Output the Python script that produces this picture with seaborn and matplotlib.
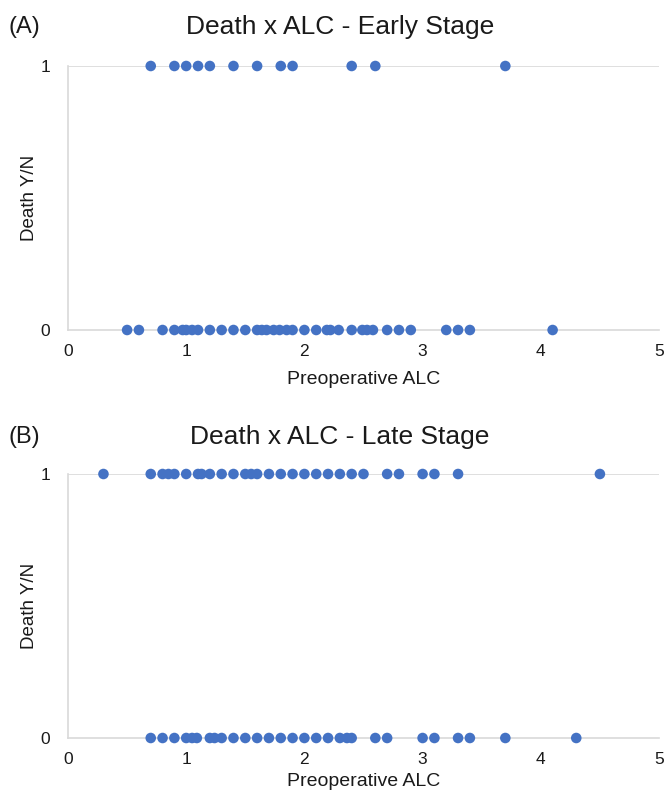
import matplotlib
matplotlib.use("Agg")
import matplotlib.pyplot as plt
import seaborn as sns
import pandas as pd

sns.set_style("white")
plt.rcParams['font.family'] = ['Liberation Sans', 'DejaVu Sans']

# Early stage
early_death_alc = [0.7, 0.9, 1.0, 1.1, 1.2, 1.4, 1.6, 1.8, 1.9, 2.4, 2.6, 3.7]
early_alive_alc = [0.5, 0.6, 0.8, 0.9, 0.97, 1.0, 1.05, 1.1, 1.2, 1.3, 1.4, 1.5,
                   1.6, 1.64, 1.68, 1.74, 1.79, 1.85, 1.9, 2.0, 2.1, 2.19, 2.22,
                   2.29, 2.4, 2.49, 2.53, 2.58, 2.7, 2.8, 2.9, 3.2, 3.3, 3.4, 4.1]
# Late stage
late_death_alc = [0.3, 0.7, 0.8, 0.85, 0.9, 1.0, 1.1, 1.13, 1.2, 1.3, 1.4, 1.5,
                  1.55, 1.6, 1.7, 1.8, 1.9, 2.0, 2.1, 2.2, 2.3, 2.4, 2.5, 2.7,
                  2.8, 3.0, 3.1, 3.3, 4.5]
late_alive_alc = [0.7, 0.8, 0.9, 1.0, 1.05, 1.09, 1.2, 1.24, 1.3, 1.4, 1.5, 1.6,
                  1.7, 1.8, 1.9, 2.0, 2.1, 2.2, 2.3, 2.36, 2.4, 2.6, 2.7, 3.0,
                  3.1, 3.3, 3.4, 3.7, 4.3]

titles = ["Death x ALC - Early Stage", "Death x ALC - Late Stage"]
panel_labels = ["(A)", "(B)"]
x_ticks = [0, 1, 2, 3, 4, 5]
y_ticks = [0, 1]

def make_df(death, alive):
    return pd.DataFrame({
        "alc": list(death) + list(alive),
        "death": [1] * len(death) + [0] * len(alive),
    })

dfs = [make_df(early_death_alc, early_alive_alc), make_df(late_death_alc, late_alive_alc)]

W, H = 665, 796
fig = plt.figure(figsize=(W / 100, H / 100), dpi=100)

axes_px = [(66, 330), (474, 738)]  # top, bottom in pixels
title_y = [27, 437]
xlabel_y = [380, 782]
blue = "#4472C4"
grid_col = "#D9D9D9"
txt = "#1a1a1a"

for i, (top, bot) in enumerate(axes_px):
    left, right = 68, 659
    ax = fig.add_axes([left / W, 1 - bot / H, (right - left) / W, (bot - top) / H])
    sns.scatterplot(data=dfs[i], x="alc", y="death", ax=ax, color=blue, s=58,
                    edgecolor="none", clip_on=False, zorder=3)
    ax.set_xlim(0, 5)
    ax.set_ylim(0, 1)
    ax.set_xticks(x_ticks)
    ax.set_yticks(y_ticks)
    ax.set_xticklabels([str(t) for t in x_ticks], fontsize=12.5, color=txt)
    ax.set_yticklabels([str(t) for t in y_ticks], fontsize=12.5, color=txt)
    ax.tick_params(axis="x", length=3, color=grid_col, pad=7)
    ax.tick_params(axis="y", length=0, pad=13)
    for s in ["top", "right"]:
        ax.spines[s].set_visible(False)
    ax.spines["left"].set_color(grid_col)
    ax.spines["bottom"].set_color(grid_col)
    ax.spines["left"].set_linewidth(1.2)
    ax.spines["bottom"].set_linewidth(1.2)
    ax.axhline(1, color=grid_col, lw=1.2, zorder=1)
    ax.set_xlabel("")
    ax.set_ylabel("")
    fig.text(340 / W, 1 - title_y[i] / H, titles[i], ha="center", va="center",
             fontsize=19, color=txt)
    fig.text(9 / W, 1 - title_y[i] / H, panel_labels[i], ha="left", va="center",
             fontsize=17, color=txt)
    fig.text(364 / W, 1 - xlabel_y[i] / H, "Preoperative ALC", ha="center",
             va="center", fontsize=14, color=txt)
    fig.text(29 / W, 1 - ((top + bot) / 2) / H, "Death Y/N", ha="center",
             va="center", rotation=90, fontsize=13.5, color=txt)

fig.savefig("out.png", dpi=100)
